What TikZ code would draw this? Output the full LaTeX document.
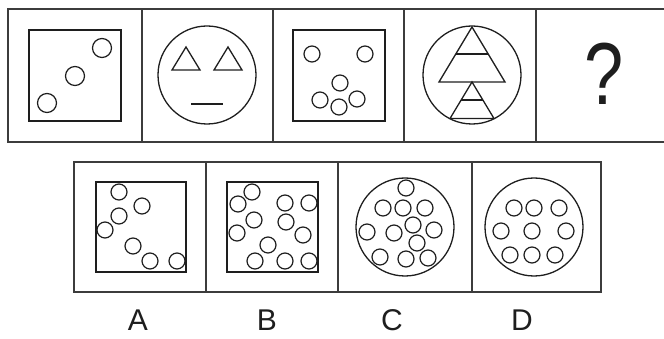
\documentclass[tikz,border=0pt]{standalone}
\usepackage{fontspec}
\setmainfont{Liberation Sans}
\usepackage{tikz}
\tikzstyle{every path}=[line width=1.3pt]
\tikzstyle{frame} = [line width=1.6pt, draw=frameink]
\tikzstyle{dot} = [line width=1.2pt]
\tikzstyle{letter} = [text=ink, inner sep=0pt, font=\fontsize{30}{30}\selectfont]
\definecolor{ink}{RGB}{30,30,30}
\definecolor{frameink}{RGB}{60,60,60}

\begin{document}
\begin{tikzpicture}[x=1pt, y=-1pt, color=ink]
            \useasboundingbox (0,0) rectangle (664,339);

            % top row
            \draw[frame] (8,9) rectangle (670,142);
            \draw[frame] (142,9) -- (142,142);
            \draw[frame] (273,9) -- (273,142);
            \draw[frame] (404,9) -- (404,142);
            \draw[frame] (536,9) -- (536,142);

            \draw (29,30) rectangle (121,121);
            \draw[dot] (47,103) circle (9.5pt) (75,76) circle (9.5pt) (102,48) circle (9.5pt);

            \draw (207,75) circle (49pt);
            \draw (186,47) -- (172,70) -- (200,70) -- cycle;
            \draw (228,47) -- (214,70) -- (242,70) -- cycle;
            \draw (191,104) -- (223,104);

            \draw (293,30) rectangle (385,121);
            \draw[dot] (312,54) circle (8pt) (365,54) circle (8pt)
                (340,83) circle (8pt) (320,100) circle (8pt)
                (357,99) circle (8pt) (339,107) circle (8pt);

            \draw (472,75) circle (49pt);
            \draw (472,27) -- (439,82) -- (505,82) -- cycle;
            \draw (456,54) -- (488,54);
            \draw (472,82) -- (450,118.5) -- (494,118.5) -- cycle;
            \draw (461,100) -- (483,100);

            \node[text=ink, xscale=0.8, font=\fontsize{88}{88}\selectfont] (ask) at (604,74) {?};

            % answer row
            \draw[frame] (74,162) rectangle (601,292);
            \draw[frame] (206,162) -- (206,292);
            \draw[frame] (338,162) -- (338,292);
            \draw[frame] (472,162) -- (472,292);

            \draw (96,182) rectangle (186,272);
            \draw[dot] (119,192) circle (8pt) (142,206) circle (8pt)
                (119,216) circle (8pt) (105,230) circle (8pt)
                (133,246) circle (8pt) (150,261) circle (8pt)
                (177,261) circle (8pt);

            \draw (227,182) rectangle (318,272);
            \draw[dot] (252,192) circle (8pt) (238,204) circle (8pt)
                (285,203) circle (8pt) (309,203) circle (8pt)
                (254,220) circle (8pt) (286,222) circle (8pt)
                (237,233) circle (8pt) (303,235) circle (8pt)
                (268,245) circle (8pt) (255,261) circle (8pt)
                (285,261) circle (8pt) (309,261) circle (8pt);

            \draw (405,227) circle (49pt);
            \draw[dot] (406,188) circle (8pt) (383,208) circle (8pt)
                (403,208) circle (8pt) (425,208) circle (8pt)
                (367,232) circle (8pt) (394,233) circle (8pt)
                (413,225) circle (8pt) (434,230) circle (8pt)
                (417,243) circle (8pt) (380,257) circle (8pt)
                (406,259) circle (8pt) (428,258) circle (8pt);

            \draw (534,227) circle (49pt);
            \draw[dot] (514,208) circle (8pt) (534,208) circle (8pt)
                (559,208) circle (8pt) (501,231) circle (8pt)
                (532,231) circle (8pt) (566,231) circle (8pt)
                (510,255) circle (8pt) (532,255) circle (8pt)
                (555,255) circle (8pt);

            \node[letter] (optA) at (138,320) {A};
            \node[letter] (optB) at (267,320) {B};
            \node[letter] (optC) at (392,320) {C};
            \node[letter] (optD) at (522,320) {D};
        \end{tikzpicture}
\end{document}
